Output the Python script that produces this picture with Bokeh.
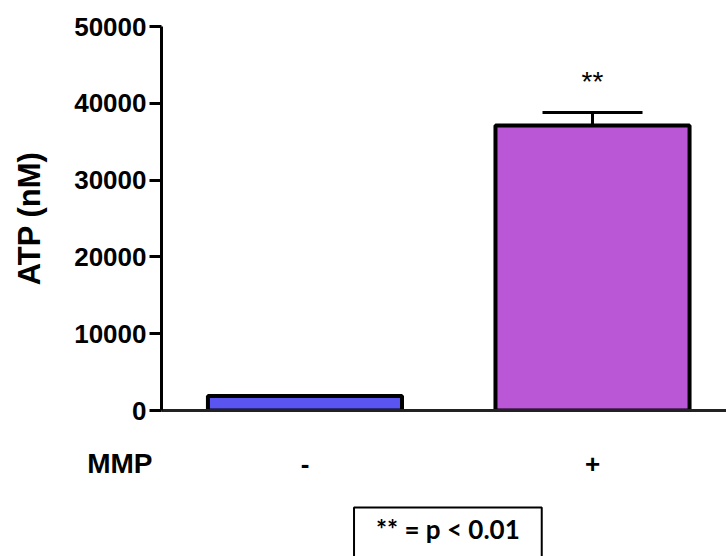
from bokeh.plotting import figure
from bokeh.layouts import column
from bokeh.models import (Range1d, FixedTicker, ColumnDataSource, Whisker, TeeHead, Label)
from bokeh.core.properties import value
from bokeh.embed import file_html
from bokeh.resources import INLINE

# data
categories = ["-", "+"]
atp_values = [1900, 37100]
atp_errors = [0, 1700]
bar_colors = ["#5A55F0", "#B957D6"]
y_ticks = [0, 10000, 20000, 30000, 40000, 50000]
x_group_label = "MMP"
y_label = "ATP (nM)"
sig_marks = ["", "**"]
sig_y = 42900
legend_note = "** = p < 0.01"

xpos = [i + 1 for i in range(len(categories))]

p = figure(width=726, height=424, output_backend="svg", toolbar_location=None,
           x_range=Range1d(0.501, 2.466), y_range=Range1d(0, 50000),
           min_border_left=161, min_border_right=0, min_border_top=26, min_border_bottom=14)
p.outline_line_color = None
p.xgrid.visible = False
p.ygrid.visible = False
p.background_fill_color = "white"
p.border_fill_color = "white"

src = ColumnDataSource(dict(x=xpos, top=atp_values, color=bar_colors))
p.vbar(x="x", top="top", bottom=0, width=0.675, source=src, fill_color="color",
       line_color="black", line_width=4)

err_src = ColumnDataSource(dict(
    x=[x for x, e in zip(xpos, atp_errors) if e > 0],
    upper=[v + e for v, e in zip(atp_values, atp_errors) if e > 0],
    lower=[v for v, e in zip(atp_values, atp_errors) if e > 0],
))
wh = Whisker(base="x", upper="upper", lower="lower", source=err_src, dimension="height",
             line_width=3, line_color="black",
             upper_head=TeeHead(size=100, line_width=3, line_color="black"),
             lower_head=None, level="underlay")
p.add_layout(wh)

p.text(x=xpos, y=[sig_y] * len(xpos), text=sig_marks, text_align="center",
       text_baseline="middle", text_font=value("Liberation Sans"), text_font_size="28px",
       text_color="black")

# y axis
ya = p.yaxis[0]
ya.ticker = FixedTicker(ticks=y_ticks)
ya.axis_line_width = 3
ya.axis_line_color = "black"
ya.major_tick_line_width = 3
ya.major_tick_line_color = "black"
ya.major_tick_out = 12
ya.major_tick_in = 0
ya.minor_tick_line_color = None
ya.major_label_text_font = "Liberation Sans"
ya.major_label_text_font_style = "bold"
ya.major_label_text_font_size = "26px"
ya.major_label_text_color = "black"
ya.major_label_standoff = 3
ya.axis_label = y_label
ya.axis_label_text_font = "Liberation Sans"
ya.axis_label_text_font_style = "bold"
ya.axis_label_text_font_size = "31px"
ya.axis_label_text_color = "black"
ya.axis_label_standoff = 24

# x axis (line only; labels drawn in lower strip)
xa = p.xaxis[0]
xa.ticker = FixedTicker(ticks=[])
xa.axis_line_width = 3
xa.axis_line_color = "#222222"
xa.major_tick_line_color = None
xa.minor_tick_line_color = None

# lower strip: group label (as axis label), category labels and note, same x scale
p2 = figure(width=726, height=132, output_backend="svg", toolbar_location=None,
            x_range=p.x_range, y_range=Range1d(132, 0), x_axis_location=None,
            min_border_left=161, min_border_right=0, min_border_top=0, min_border_bottom=0)
p2.grid.visible = False
p2.outline_line_color = None
p2.background_fill_color = "white"
p2.border_fill_color = "white"

ya2 = p2.yaxis[0]
ya2.ticker = FixedTicker(ticks=[39])
ya2.major_label_overrides = {39: x_group_label}
ya2.axis_line_color = None
ya2.major_tick_line_color = None
ya2.minor_tick_line_color = None
ya2.major_label_standoff = 3
ya2.major_label_text_font = "Liberation Sans"
ya2.major_label_text_font_style = "bold"
ya2.major_label_text_font_size = "28px"
ya2.major_label_text_color = "black"

p2.text(x=xpos, y=[39] * len(xpos), text=categories, text_align="center",
        text_baseline="middle", text_font=value("Liberation Sans"),
        text_font_style="bold", text_font_size="26px", text_color="black")

note = Label(x=1.497, y=83, text=legend_note, text_font="Lato",
             text_font_style="bold", text_font_size="26px", text_baseline="top",
             text_align="center", text_color="black",
             border_line_color="black", border_line_width=2,
             background_fill_color="white",
             padding=dict(left=22, right=22, top=5, bottom=30))
p2.add_layout(note)

layout = column(p, p2, spacing=0)
open("out.html", "w").write(file_html(layout, INLINE))
